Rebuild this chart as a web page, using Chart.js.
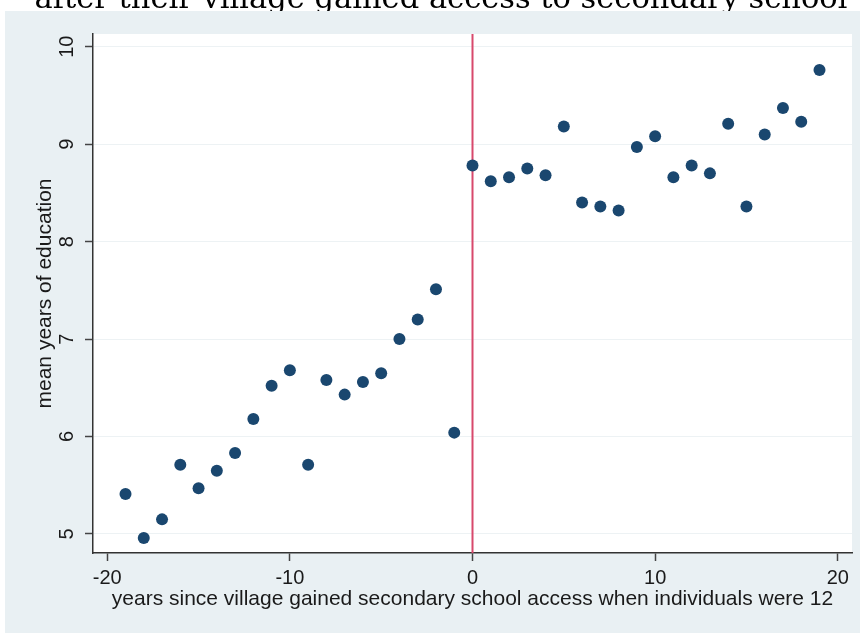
<!DOCTYPE html>
<html>
<head>
<meta charset="utf-8">
<script src="https://cdn.jsdelivr.net/npm/chart.js@4/dist/chart.umd.min.js"></script>
<style>
  html, body { margin: 0; padding: 0; background: #ffffff; }
  #wrap { width: 860px; height: 633px; position: relative; }
  canvas { display: block; }
</style>
</head>
<body>
<div id="wrap"><canvas id="chart" width="860" height="633"></canvas></div>
<script>
// Text
const chartTitle = 'after their village gained access to secondary school';
const xAxisTitle = 'years since village gained secondary school access when individuals were 12';
const yAxisTitle = 'mean years of education';

// Cohorts: years since the village gained access, at age 12
const yearsSinceAccess = [
  -19, -18, -17, -16, -15, -14, -13, -12, -11, -10,
  -9, -8, -7, -6, -5, -4, -3, -2, -1,
  0, 1, 2, 3, 4, 5, 6, 7, 8, 9,
  10, 11, 12, 13, 14, 15, 16, 17, 18, 19
];

// Mean years of education per cohort
const meanYearsEducation = [
  5.41, 4.96, 5.15, 5.71, 5.47, 5.65, 5.83, 6.18, 6.52, 6.68,
  5.71, 6.58, 6.43, 6.56, 6.65, 7.00, 7.20, 7.51, 6.04,
  8.78, 8.62, 8.66, 8.75, 8.68, 9.18, 8.40, 8.36, 8.32, 8.97,
  9.08, 8.66, 8.78, 8.70, 9.21, 8.36, 9.10, 9.37, 9.23, 9.76
];

// Axis ticks and ranges
const xTicks = [-20, -10, 0, 10, 20];
const yTicks = [5, 6, 7, 8, 9, 10];
const xRange = [-20.78, 20.78];
const yRange = [4.805, 10.13];

// Year the village gained access (vertical reference line)
const accessYear = 0;

const points = yearsSinceAccess.map((x, i) => ({ x: x, y: meanYearsEducation[i] }));

const PANEL = '#e9f0f3';
const INK = '#1a1a1a';
const SANS = '"Liberation Sans", Arial, Helvetica, sans-serif';

// Background panel, white plot region, title strip
const backgroundPlugin = {
  id: 'backgroundPanel',
  beforeDraw(chart) {
    const { ctx, chartArea } = chart;
    ctx.save();
    ctx.fillStyle = '#ffffff';
    ctx.fillRect(0, 0, chart.width, chart.height);
    ctx.fillStyle = PANEL;
    ctx.fillRect(5, 11, chart.width - 5, chart.height - 11);
    ctx.fillStyle = '#ffffff';
    ctx.fillRect(chartArea.left, chartArea.top,
                 chartArea.right - chartArea.left, chartArea.bottom - chartArea.top);
    ctx.restore();
  },
  afterDraw(chart) {
    const { ctx } = chart;
    ctx.save();
    ctx.beginPath();
    ctx.rect(0, 0, chart.width, 11);
    ctx.clip();
    ctx.fillStyle = '#000000';
    ctx.font = '30.5px "DejaVu Serif", "Liberation Serif", serif';
    ctx.textAlign = 'center';
    ctx.textBaseline = 'alphabetic';
    ctx.fillText(chartTitle, 441, 8);
    ctx.restore();
  }
};

// Vertical line at the access year, drawn beneath the markers
const accessLinePlugin = {
  id: 'accessLine',
  beforeDatasetsDraw(chart) {
    const { ctx, chartArea, scales } = chart;
    const px = scales.x.getPixelForValue(accessYear);
    ctx.save();
    ctx.strokeStyle = '#d8486c';
    ctx.lineWidth = 2;
    ctx.beginPath();
    ctx.moveTo(px, chartArea.top);
    ctx.lineTo(px, chartArea.bottom);
    ctx.stroke();
    ctx.restore();
  }
};

new Chart(document.getElementById('chart'), {
  type: 'scatter',
  data: {
    datasets: [{
      data: points,
      backgroundColor: '#1a476f',
      borderWidth: 0,
      pointRadius: 6,
      pointHoverRadius: 6
    }]
  },
  options: {
    responsive: false,
    animation: false,
    events: [],
    layout: { padding: { top: 34, right: 8, bottom: 0, left: 0 } },
    plugins: {
      legend: { display: false },
      tooltip: { enabled: false },
      title: { display: false }
    },
    scales: {
      x: {
        type: 'linear',
        min: xRange[0],
        max: xRange[1],
        afterBuildTicks: s => { s.ticks = xTicks.map(v => ({ value: v })); },
        afterFit: s => { s.height = 80; },
        grid: {
          drawOnChartArea: false,
          drawTicks: true,
          tickLength: 8,
          tickColor: '#444444',
          tickWidth: 1.5
        },
        border: { color: '#333333', width: 1.5 },
        ticks: {
          color: INK,
          font: { family: SANS, size: 20 },
          padding: 5,
          maxRotation: 0,
          autoSkip: false
        },
        title: {
          display: true,
          text: xAxisTitle,
          color: INK,
          font: { family: SANS, size: 21 },
          padding: { top: 0, bottom: 21 }
        }
      },
      y: {
        type: 'linear',
        min: yRange[0],
        max: yRange[1],
        afterBuildTicks: s => { s.ticks = yTicks.map(v => ({ value: v })); },
        afterFit: s => { s.width = 93; },
        grid: {
          color: '#edf2f4',
          lineWidth: 1,
          drawTicks: true,
          tickLength: 8,
          tickColor: '#444444',
          tickWidth: 1.5
        },
        border: { color: '#333333', width: 1.5 },
        ticks: {
          color: INK,
          font: { family: SANS, size: 20 },
          padding: 6,
          minRotation: 90,
          maxRotation: 90,
          crossAlign: 'center',
          autoSkip: false
        },
        title: {
          display: true,
          text: yAxisTitle,
          color: INK,
          font: { family: SANS, size: 21 },
          padding: { top: 33, bottom: 0 }
        }
      }
    }
  },
  plugins: [backgroundPlugin, accessLinePlugin]
});
</script>
</body>
</html>
